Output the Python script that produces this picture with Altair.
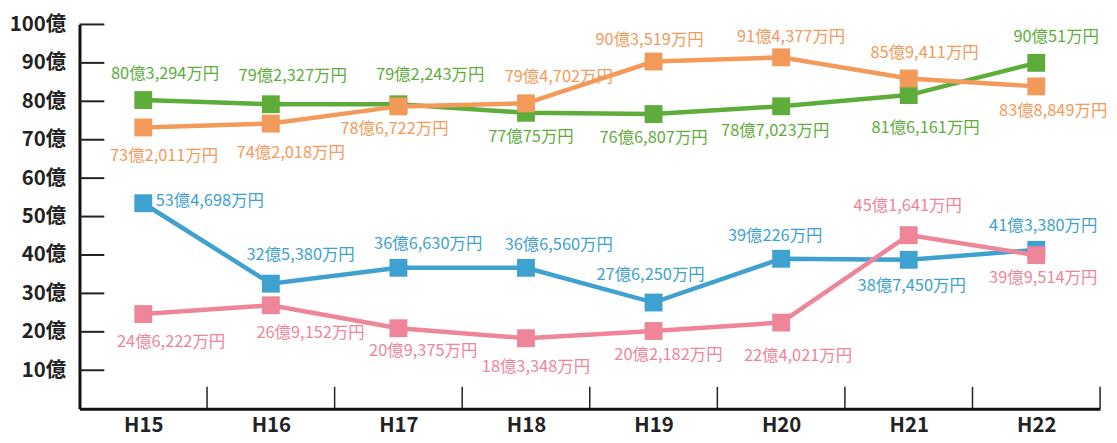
import altair as alt
import pandas as pd

# ---- data (values in 万円) ----
categories = ["H15", "H16", "H17", "H18", "H19", "H20", "H21", "H22"]
series_names = ["系列A", "系列B", "系列C", "系列D"]
series_a = [803294, 792327, 792243, 770075, 766807, 787023, 816161, 900051]  # green
series_b = [732011, 742018, 786722, 794702, 903519, 914377, 859411, 838849]  # orange
series_c = [534698, 325380, 366630, 366560, 276250, 390226, 387450, 413380]  # blue
series_d = [246222, 269152, 209375, 183348, 202182, 224021, 451641, 399514]  # pink
y_ticks = [10, 20, 30, 40, 50, 60, 70, 80, 90, 100]

# ---- styling / placement ----
colors = ["#5EAD3B", "#F39A5B", "#3EA1CF", "#EE8599"]
# label offsets from the marker in pixels (dx right, dy down)
label_offsets = [
    [(22, -26), (22, -28), (32, -29), (5, 24), (0, 24), (-6, 25), (17, 33), (20, -26)],
    [(21, 29), (20, 30), (-4, 23), (33, -26), (-4, -22), (10, -20), (16, -26), (17, 25)],
    [(67, -2), (30, -29), (30, -24), (33, -23), (-3, -28), (-6, -23), (3, 26), (7, -24)],
    [(28, 28), (40, 28), (25, 23), (10, 29), (15, 24), (17, 34), (-1, -29), (7, 23)],
]

W, H = 1028, 387
N = len(categories)
PX_X = W / N
PX_Y = H / 100.0
FONT = "Noto Sans CJK JP"

x_scale = alt.Scale(domain=[0, N], nice=False, zero=False)
y_scale = alt.Scale(domain=[0, 100], nice=False)

label_js = "[" + ",".join("'%s'" % c for c in categories) + "]"

layers = []

# axes: category labels at band centres, 億 labels on y
base_axis = alt.Chart(pd.DataFrame({"x": [0.5]})).mark_point(opacity=0).encode(
    x=alt.X("x:Q", scale=x_scale,
            axis=alt.Axis(values=[i + 0.5 for i in range(N)],
                          labelExpr=label_js + "[round(datum.value - 0.5)]",
                          ticks=False, grid=False, title=None,
                          domainColor="#111", domainWidth=3,
                          labelFont=FONT, labelFontSize=20.5, labelFontWeight="bold",
                          labelColor="#222", labelPadding=7)),
    y=alt.Y("y:Q", scale=y_scale,
            axis=alt.Axis(values=y_ticks, labelExpr="datum.value + '億'",
                          ticks=False, grid=False, title=None,
                          domainColor="#111", domainWidth=3,
                          labelFont=FONT, labelFontSize=20.5, labelFontWeight="bold",
                          labelColor="#222", labelPadding=14)),
).transform_calculate(y="0")
layers.append(base_axis)

# inward y ticks
ytick_df = pd.DataFrame({"v": y_ticks})
layers.append(
    alt.Chart(ytick_df).mark_rule(color="#222", strokeWidth=2).encode(
        y=alt.Y("v:Q", scale=y_scale), x=alt.value(0), x2=alt.value(25)
    )
)

# inward x boundary ticks
xtick_df = pd.DataFrame({"b": list(range(1, N + 1))})
layers.append(
    alt.Chart(xtick_df).mark_rule(color="#222", strokeWidth=1.5).encode(
        x=alt.X("b:Q", scale=x_scale), y=alt.value(H), y2=alt.value(H - 22)
    )
)

all_series = [series_a, series_b, series_c, series_d]
for s_idx, (name, vals) in enumerate(zip(series_names, all_series)):
    rows = []
    for i, (cat, v) in enumerate(zip(categories, vals)):
        val = v / 10000.0
        dx, dy = label_offsets[s_idx][i]
        rows.append({
            "series": name,
            "cat": cat,
            "x": i + 0.5,
            "value": val,
            "label": "%d億%s万円" % (v // 10000, format(v % 10000, ",")),
            "lx": i + 0.5 + dx / PX_X,
            "ly": val - dy / PX_Y,
        })
    df = pd.DataFrame(rows)
    c = colors[s_idx]
    base = alt.Chart(df)
    layers.append(base.mark_line(color=c, strokeWidth=4.5).encode(
        x=alt.X("x:Q", scale=x_scale), y=alt.Y("value:Q", scale=y_scale)))
    layers.append(base.mark_point(shape="square", filled=True, size=324, opacity=1, color=c).encode(
        x=alt.X("x:Q", scale=x_scale), y=alt.Y("value:Q", scale=y_scale)))
    layers.append(base.mark_text(color=c, font=FONT, fontSize=16.5, align="center",
                                 baseline="middle").encode(
        x=alt.X("lx:Q", scale=x_scale), y=alt.Y("ly:Q", scale=y_scale),
        text="label:N"))

chart = alt.layer(*layers).properties(
    width=W, height=H,
    autosize=alt.AutoSizeParams(type="none"),
    padding={"left": 72, "top": 15, "right": 9, "bottom": 34},
    background="white",
).configure_view(stroke=None)

chart.save("out.html", embed_options={"renderer": "svg", "actions": False})
